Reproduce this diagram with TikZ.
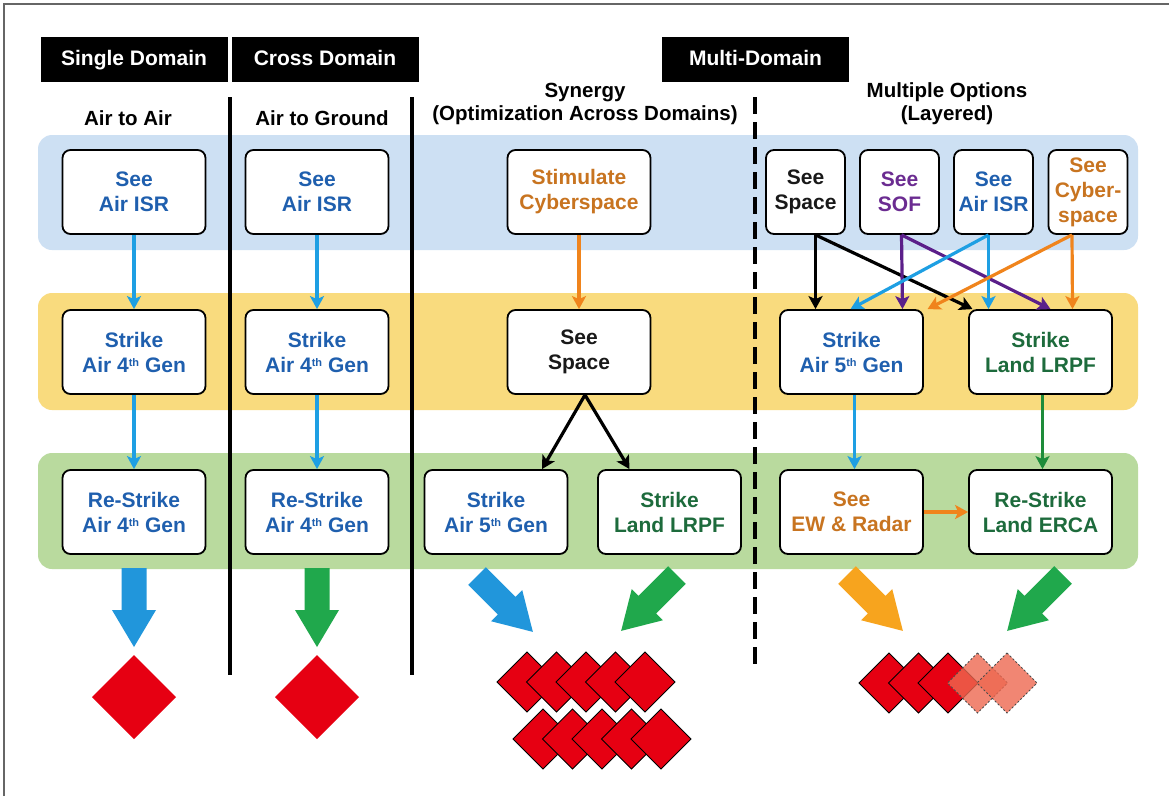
\documentclass[tikz,border=0pt]{standalone}
\usepackage{fontspec}
\setmainfont{Liberation Sans}
\usepackage{tikz}
\usetikzlibrary{arrows.meta}
\definecolor{bandblue}{RGB}{205,224,243}
\definecolor{bandyellow}{RGB}{249,219,126}
\definecolor{bandgreen}{RGB}{185,218,158}
\definecolor{txtblue}{RGB}{31,95,174}
\definecolor{txtorange}{RGB}{200,116,32}
\definecolor{txtgreen}{RGB}{29,107,60}
\definecolor{txtpurple}{RGB}{107,44,145}
\definecolor{lnblue}{RGB}{30,159,227}
\definecolor{lnorange}{RGB}{240,132,28}
\definecolor{lngreen}{RGB}{30,140,58}
\definecolor{lnpurple}{RGB}{91,31,138}
\definecolor{fatblue}{RGB}{33,150,219}
\definecolor{fatgreen}{RGB}{32,168,76}
\definecolor{fatorange}{RGB}{247,164,30}
\definecolor{hitred}{RGB}{230,0,18}
\definecolor{fadered}{RGB}{238,104,80}
\newcommand{\ordth}{\raisebox{6pt}{\fontsize{11}{11}\selectfont th}}
\tikzset{box/.style={draw, line width=1.8pt, rounded corners=8pt, fill=white,
         minimum width=143pt, minimum height=84pt, inner sep=1pt, align=center,
         font=\bfseries\fontsize{21}{25}\selectfont},
         smallbox/.style={box, minimum width=79pt},
         header/.style={fill=black, text=white, minimum width=187pt, minimum height=45pt,
         text height=15pt, text depth=4pt,
         font=\bfseries\fontsize{21}{25}\selectfont},
         title/.style={align=center, font=\bfseries\fontsize{20.5}{23}\selectfont},
         band/.style={rounded corners=14pt},
         link/.style={line width=3.2pt, -{Stealth[length=13pt,width=14pt,inset=3pt]}},
         divider/.style={line width=4.5pt},
         fatarrow/.pic={\fill[#1] (-12.5,0) -- (12.5,0) -- (12.5,42) -- (22,42) -- (0,79)
         -- (-22,42) -- (-12.5,42) -- cycle;},
         hit/.style={fill=hitred, draw=black, line width=0.9pt},
         fadedhit/.style={fill=fadered, fill opacity=0.8, draw=black!70, line width=0.8pt,
         dash pattern=on 2pt off 2pt}}

\begin{document}
\begin{tikzpicture}[x=1pt,y=-1pt]
\useasboundingbox (0,0) rectangle (1169,796);
\fill[white] (0,0) rectangle (1169,796);
\draw[black!60, line width=1.2pt] (4,796) -- (4,4) -- (1169,4);

\fill[bandblue, band] (38,135) rectangle (1138,250);
\fill[bandyellow, band] (38,293) rectangle (1138,410);
\fill[bandgreen, band] (38,453) rectangle (1138,569);

\draw[divider] (230,97) -- (230,675);
\draw[divider] (412,97) -- (412,675);
\draw[divider, dash pattern=on 17pt off 8pt] (755,97) -- (755,668);

\node[header] (hdsingle) at (134,59.5) {Single Domain};
\node[header] (hdcross) at (325,59.5) {Cross Domain};
\node[header] (hdmulti) at (755.5,59.5) {Multi-Domain};

\node[title] (ttair) at (128,118) {Air to Air};
\node[title] (ttground) at (322,118) {Air to Ground};
\node[title] (ttsynergy) at (585,103.5) {Synergy\\(Optimization Across Domains)};
\node[title] (ttlayered) at (947,104) {Multiple Options\\(Layered)};

% single domain
\node[box, text=txtblue] (aisr) at (134,192) {See\\Air ISR};
\node[box, text=txtblue] (astrike) at (134,352) {Strike\\Air 4\ordth{} Gen};
\node[box, text=txtblue] (arestrike) at (134,512) {Re-Strike\\Air 4\ordth{} Gen};
\draw[link, lnblue] (aisr) -- (astrike);
\draw[link, lnblue] (astrike) -- (arestrike);

% cross domain
\node[box, text=txtblue] (gisr) at (317,192) {See\\Air ISR};
\node[box, text=txtblue] (gstrike) at (317,352) {Strike\\Air 4\ordth{} Gen};
\node[box, text=txtblue] (grestrike) at (317,512) {Re-Strike\\Air 4\ordth{} Gen};
\draw[link, lnblue] (gisr) -- (gstrike);
\draw[link, lnblue] (gstrike) -- (grestrike);

% synergy
\node[box, text=txtorange] (ycyber) at (579,192) {Stimulate\\Cyberspace};
\node[box, text=black!90] (yspace) at (579,352) {See\\Space};
\node[box, text=txtblue] (yair) at (496,512) {Strike\\Air 5\ordth{} Gen};
\node[box, text=txtgreen] (yland) at (669.5,512) {Strike\\Land LRPF};
\draw[link, lnorange] (ycyber) -- (yspace);
\draw[link] ([xshift=6pt]yspace.south) -- ([xshift=46pt]yair.north);
\draw[link] ([xshift=6pt]yspace.south) -- ([xshift=-40pt]yland.north);

% layered
\node[smallbox, text=black!90] (lspace) at (805.5,192) {See\\Space};
\node[smallbox, text=txtpurple] (lsof) at (899.5,192) {See\\SOF};
\node[smallbox, text=txtblue] (lisr) at (993.5,192) {See\\Air ISR};
\node[smallbox, text=txtorange] (lcyber) at (1088,192) {See\\Cyber-\\space};
\node[box, text=txtblue] (lair) at (851.5,352) {Strike\\Air 5\ordth{} Gen};
\node[box, text=txtgreen] (lland) at (1040.5,352) {Strike\\Land LRPF};
\node[box, text=txtorange] (lradar) at (851.5,512) {See\\EW \& Radar};
\node[box, text=txtgreen] (lerca) at (1040.5,512) {Re-Strike\\Land ERCA};

\draw[link] ([xshift=10pt]lspace.south) -- ([xshift=-36pt]lair.north);
\draw[link] ([xshift=10pt]lspace.south) -- ([xshift=-68pt]lland.north);
\draw[link, lnpurple] ([xshift=2pt]lsof.south) -- ([xshift=51pt]lair.north);
\draw[link, lnpurple] ([xshift=2pt]lsof.south) -- ([xshift=10pt]lland.north);
\draw[link, lnblue] ([xshift=-5pt]lisr.south) -- ([xshift=-1pt]lair.north);
\draw[link, lnblue] ([xshift=-5pt]lisr.south) -- ([xshift=-52pt]lland.north);
\draw[link, lnorange] ([xshift=-16pt]lcyber.south) -- ([xshift=76pt]lair.north);
\draw[link, lnorange] ([xshift=-16pt]lcyber.south) -- ([xshift=32pt]lland.north);
\draw[link, lnblue] ([xshift=3pt]lair.south) -- ([xshift=3pt]lradar.north);
\draw[link, lngreen] ([xshift=2pt]lland.south) -- ([xshift=2pt]lerca.north);
\draw[link, lnorange] (lradar) -- (lerca);

% effects
\pic at (134,568) {fatarrow=fatblue};
\pic at (317,568) {fatarrow=fatgreen};
\pic[rotate=45] at (477,576) {fatarrow=fatblue};
\pic[rotate=-45] at (677,575) {fatarrow=fatgreen};
\pic[rotate=45] at (847,575) {fatarrow=fatorange};
\pic[rotate=-45] at (1063,575) {fatarrow=fatgreen};

\fill[hitred] (134,655) -- ++(42,42) -- ++(-42,42) -- ++(-42,-42) -- cycle;
\fill[hitred] (317,655) -- ++(42,42) -- ++(-42,42) -- ++(-42,-42) -- cycle;
\foreach \i in {0,...,4}
  \draw[hit] ({527+29.5*\i},652) -- ++(30,30) -- ++(-30,30) -- ++(-30,-30) -- cycle;
\foreach \i in {0,...,4}
  \draw[hit] ({543+29.5*\i},709) -- ++(30,30) -- ++(-30,30) -- ++(-30,-30) -- cycle;
\foreach \i in {0,...,2}
  \draw[hit] ({889+29.5*\i},653) -- ++(30,30) -- ++(-30,30) -- ++(-30,-30) -- cycle;
\foreach \i in {3,4}
  \draw[fadedhit] ({889+29.5*\i},653) -- ++(30,30) -- ++(-30,30) -- ++(-30,-30) -- cycle;
\end{tikzpicture}
\end{document}
